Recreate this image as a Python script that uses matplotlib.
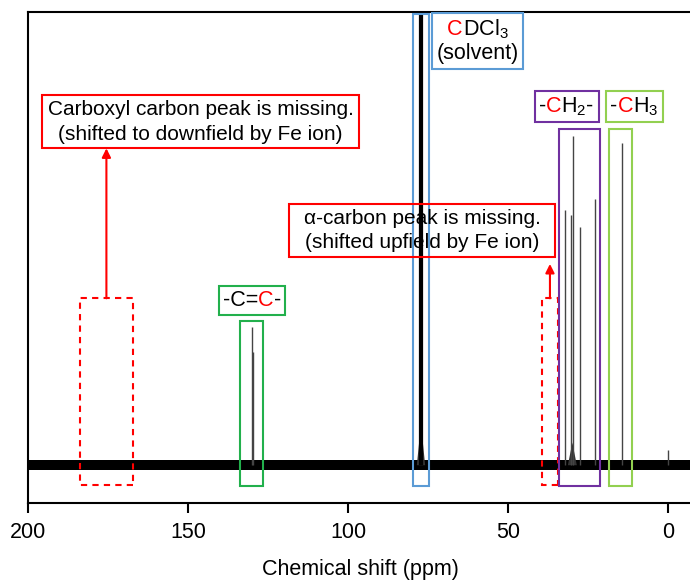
import numpy as np
import matplotlib
matplotlib.use("Agg")
import matplotlib.pyplot as plt
from matplotlib.patches import Rectangle, Polygon
from matplotlib.offsetbox import TextArea, HPacker, VPacker, AnnotationBbox

plt.rcParams['font.family'] = ['Liberation Sans', 'DejaVu Sans']
plt.rcParams['mathtext.fontset'] = 'custom'
plt.rcParams['mathtext.rm'] = 'Liberation Sans'

# peak list (ppm, intensity)
peak_ppm = [129.9, 129.7, 32.1, 30.2, 29.7, 27.4, 22.9, 14.3, 0.0]
peak_height = [3.65, 2.99, 6.75, 6.62, 8.71, 6.31, 7.06, 8.52, 0.40]
solvent_ppm = [77.5, 77.2, 76.8]
solvent_height = [20.0, 20.0, 20.0]
# broadened bases (center, half width, height)
broad_ppm = [77.2, 29.9]
broad_halfwidth = [1.3, 1.4]
broad_height = [1.1, 0.6]
noise_level = 0.13

x_ticks = [200, 150, 100, 50, 0]

RED = '#ff0000'
fs = 15.5

fig = plt.figure(figsize=(6.9, 5.81), dpi=100)
ax = fig.add_axes([28/690, 78/581, 665/690, 491/581])
ax.set_xlim(200, -7.8)
ax.set_ylim(-1, 12)

# baseline noise band
ax.fill_between([200, -7.8], [-noise_level]*2, [noise_level]*2, color='k', lw=0)

for c, w, h in zip(broad_ppm, broad_halfwidth, broad_height):
    ax.add_patch(Polygon([(c + w, 0), (c, h), (c - w, 0)], closed=True,
                         facecolor='#333333', edgecolor='none'))
ax.vlines(peak_ppm, 0, peak_height, color='#444444', lw=1.0)
ax.vlines(solvent_ppm, 0, solvent_height, color='k', lw=1.6)

# boxes around peaks / missing peaks
def box(x0, x1, y0, y1, color, ls='-'):
    ax.add_patch(Rectangle((x1, y0), x0 - x1, y1 - y0, fill=False,
                           edgecolor=color, lw=1.5, linestyle=ls, zorder=3))

box(183.75, 167.2, -0.53, 4.42, RED, (0, (3, 2.5)))
box(133.75, 126.6, -0.56, 3.81, '#22b04c')
box(79.7, 74.7, -0.56, 11.94, '#5b9bd5')
box(39.4, 34.4, -0.53, 4.42, RED, (0, (3, 2.5)))
box(34.1, 21.25, -0.56, 8.9, '#7030a0')
box(18.4, 11.25, -0.56, 8.9, '#92d050')
# frames of the two red notes
box(195.6, 96.6, 8.39, 9.80, RED)
box(118.4, 35.3, 5.51, 6.91, RED)

# red annotations
arrow = dict(arrowstyle='-|>', color=RED, lw=1.5, mutation_scale=13,
             shrinkA=0, shrinkB=0)
ax.annotate('', xy=(175.5, 8.39), xytext=(175.5, 4.42), arrowprops=arrow)
ax.annotate('', xy=(36.9, 5.33), xytext=(36.9, 4.42), arrowprops=arrow)

ax.text(146.1, 9.09, 'Carboxyl carbon peak is missing.\n(shifted to downfield by Fe ion)',
        ha='center', va='center', multialignment='center', fontsize=15,
        linespacing=1.35)
ax.text(76.9, 6.21, 'α-carbon peak is missing.\n(shifted upfield by Fe ion)',
        ha='center', va='center', multialignment='center', fontsize=15,
        linespacing=1.35)

# coloured labels
def label(parts, xy, color, two_lines=None):
    row = HPacker(children=[TextArea(t, textprops=dict(color=c, fontsize=fs))
                            for t, c in parts], pad=0, sep=0, align='baseline')
    if two_lines:
        row = VPacker(children=[row, TextArea(two_lines, textprops=dict(fontsize=fs))],
                      pad=0, sep=2, align='center')
    ab = AnnotationBbox(row, xy, xycoords='data', frameon=True, pad=0.3,
                        bboxprops=dict(edgecolor=color, lw=1.5, facecolor='none',
                                       boxstyle='square'))
    ax.add_artist(ab)

label([('-C=', 'k'), ('C', RED), ('-', 'k')], (130.0, 4.37), '#22b04c')
label([('C', RED), ('DCl$_3$', 'k')], (59.5, 11.24), '#5b9bd5', two_lines='(solvent)')
label([('-', 'k'), ('C', RED), ('H$_2$-', 'k')], (31.7, 9.5), '#7030a0')
label([('-', 'k'), ('C', RED), ('H$_3$', 'k')], (10.5, 9.5), '#92d050')

ax.set_xticks(x_ticks)
ax.set_yticks([])
ax.tick_params(axis='x', direction='out', length=7.5, width=1.5, labelsize=fs, pad=6)
for s in ['left', 'top', 'bottom']:
    ax.spines[s].set_linewidth(1.5)
ax.spines['right'].set_visible(False)
ax.set_xlabel('Chemical shift (ppm)', fontsize=fs, labelpad=12)

fig.savefig('out.png', dpi=100)
